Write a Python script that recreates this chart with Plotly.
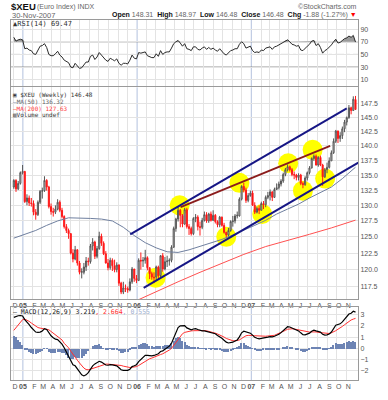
import numpy as np
import pandas as pd
import plotly.graph_objects as go

# ---------------- data (weekly $XEU) ----------------
week_dates = pd.date_range("2004-12-03", periods=157, freq="7D")

opens = [133.0, 134.1, 132.7, 133.6, 135.4, 135.6, 130.6, 131.2, 130.4, 130.3,
         128.9, 128.5, 130.5, 132.3, 132.4, 134.1, 133.0, 129.8, 129.0, 128.9,
         129.4, 130.5, 129.2, 128.2, 126.6, 126.0, 125.5, 122.5, 121.6, 123.0,
         121.0, 119.6, 119.6, 120.4, 121.3, 121.2, 123.6, 124.2, 122.0, 123.2,
         125.1, 124.0, 122.4, 121.0, 120.3, 121.4, 120.6, 120.0, 120.7, 118.0,
         116.7, 117.3, 117.2, 117.0, 118.2, 120.1, 118.7, 118.4, 121.4, 121.3,
         121.4, 121.8, 120.3, 119.4, 118.9, 118.9, 120.4, 119.1, 122.1, 120.1,
         121.2, 121.3, 121.4, 123.4, 126.3, 127.8, 129.2, 128.4, 127.0, 129.3,
         126.6, 126.3, 125.5, 127.9, 128.1, 126.6, 126.5, 127.6, 128.5, 127.5,
         128.6, 127.6, 128.4, 127.4, 126.9, 128.1, 126.8, 125.7, 125.3, 126.0,
         127.4, 127.5, 128.3, 128.3, 131.0, 133.1, 132.5, 130.8, 131.6, 132.0,
         130.0, 128.9, 129.5, 129.2, 130.3, 130.1, 131.3, 131.6, 132.2, 131.3,
         132.6, 132.9, 133.5, 134.0, 135.1, 135.9, 136.4, 135.9, 135.1, 135.0,
         134.6, 135.0, 133.6, 133.4, 134.5, 135.4, 136.2, 137.8, 138.2, 136.7,
         138.0, 136.7, 134.7, 135.9, 136.3, 137.4, 138.8, 140.8, 142.6, 141.3,
         141.8, 143.0, 144.2, 145.0, 146.8, 146.3, 148.31]
highs = [134.3, 134.3, 134.0, 135.6, 136.7, 135.7, 131.8, 131.6, 131.2, 130.8,
         129.4, 130.8, 132.5, 132.9, 134.8, 134.3, 133.2, 130.3, 129.6, 130.0,
         131.0, 130.8, 129.6, 128.4, 127.0, 126.3, 125.6, 123.1, 123.6, 123.1,
         121.3, 120.2, 121.0, 121.9, 121.8, 123.9, 124.8, 124.4, 123.6, 125.8,
         125.5, 124.3, 122.8, 121.6, 121.8, 121.7, 121.5, 121.1, 120.8, 118.2,
         118.2, 117.8, 117.5, 118.7, 120.4, 120.1, 119.2, 121.7, 122.6, 121.9,
         123.0, 122.0, 120.3, 119.7, 119.6, 120.6, 120.6, 122.2, 122.5, 121.9,
         122.1, 121.7, 123.7, 126.6, 128.0, 129.8, 129.4, 128.6, 129.6, 129.6,
         127.0, 126.6, 128.1, 128.6, 128.4, 127.4, 128.0, 129.0, 128.9, 128.8,
         129.0, 129.2, 128.6, 127.6, 128.3, 128.2, 127.2, 125.8, 126.4, 127.6,
         128.3, 128.6, 129.0, 131.3, 133.3, 133.7, 132.9, 132.0, 132.4, 132.4,
         130.5, 129.8, 130.0, 130.6, 130.7, 131.6, 132.2, 132.6, 132.3, 132.9,
         133.6, 133.9, 134.3, 135.4, 136.2, 136.8, 136.6, 136.2, 135.6, 135.2,
         135.3, 135.2, 133.9, 134.8, 135.6, 136.5, 138.0, 138.5, 138.5, 138.2,
         138.3, 136.9, 136.2, 137.1, 138.0, 139.2, 141.3, 142.8, 142.7, 142.4,
         143.4, 144.6, 145.2, 147.3, 147.0, 148.9, 148.97]
lows = [132.7, 132.2, 132.5, 133.4, 135.1, 130.4, 130.0, 129.9, 129.8, 128.4,
        127.7, 128.3, 130.2, 131.1, 132.2, 132.4, 129.5, 128.5, 128.2, 128.6,
        129.2, 128.9, 127.9, 126.3, 125.6, 124.7, 122.3, 121.1, 121.4, 120.6,
        119.3, 118.7, 119.3, 119.8, 120.6, 120.9, 122.9, 121.6, 121.7, 123.0,
        123.6, 122.2, 120.9, 119.9, 120.0, 119.8, 119.6, 119.6, 117.6, 116.4,
        116.4, 116.7, 116.6, 116.8, 117.9, 118.2, 118.0, 118.3, 120.0, 120.4,
        120.9, 119.9, 118.6, 118.5, 118.0, 118.4, 118.6, 118.9, 119.7, 119.9,
        120.4, 120.6, 121.1, 123.3, 125.8, 127.4, 126.5, 126.5, 126.9, 126.3,
        125.3, 125.2, 125.3, 127.3, 126.0, 125.2, 126.2, 127.4, 127.2, 127.2,
        127.4, 127.5, 127.1, 126.5, 126.5, 126.6, 125.5, 124.9, 125.0, 125.8,
        126.6, 127.1, 127.9, 128.2, 130.8, 132.1, 130.4, 130.5, 131.4, 129.9,
        128.6, 128.7, 128.6, 129.2, 129.4, 129.7, 131.0, 130.8, 130.7, 131.2,
        132.5, 132.6, 133.1, 133.7, 134.8, 135.6, 135.6, 134.8, 134.3, 134.1,
        134.1, 133.3, 132.8, 133.2, 134.1, 135.1, 136.1, 137.4, 136.6, 136.4,
        136.5, 133.2, 134.5, 135.3, 136.1, 137.4, 138.6, 140.5, 140.5, 140.7,
        141.2, 142.4, 143.6, 144.8, 145.6, 146.2, 146.48]
closes = [134.1, 132.7, 133.6, 135.4, 135.6, 130.6, 131.2, 130.4, 130.3, 128.9,
          128.5, 130.5, 132.3, 132.4, 134.1, 133.0, 129.8, 129.0, 128.9, 129.4,
          130.5, 129.2, 128.2, 126.6, 126.0, 125.5, 122.5, 121.6, 123.0, 121.0,
          119.6, 119.7, 120.4, 121.3, 121.2, 123.6, 124.2, 122.0, 123.2, 125.1,
          124.0, 122.4, 121.0, 120.3, 121.4, 120.6, 120.0, 120.7, 118.0, 116.7,
          117.3, 117.2, 117.0, 118.2, 120.1, 118.7, 118.4, 121.4, 121.3, 121.4,
          121.8, 120.3, 119.4, 118.9, 118.8, 120.4, 119.1, 122.1, 120.1, 121.2,
          121.3, 121.4, 123.4, 126.3, 127.8, 129.2, 128.4, 127.0, 129.3, 126.6,
          126.3, 125.5, 127.9, 128.1, 126.6, 126.5, 127.6, 128.5, 127.5, 128.6,
          127.6, 128.4, 127.4, 126.9, 128.1, 126.8, 125.7, 125.3, 126.0, 127.4,
          127.5, 128.3, 128.4, 131.0, 133.1, 132.5, 130.8, 131.6, 132.0, 130.0,
          128.9, 129.5, 129.2, 130.3, 130.1, 131.3, 131.6, 132.2, 131.3, 132.6,
          132.9, 133.5, 134.0, 135.1, 135.9, 136.4, 135.9, 135.1, 135.0, 134.6,
          135.0, 133.6, 133.4, 134.5, 135.4, 136.2, 137.8, 138.2, 136.7, 138.0,
          136.7, 134.7, 135.9, 136.3, 137.4, 138.8, 140.8, 142.6, 141.3, 141.8,
          143.0, 144.2, 145.0, 146.8, 146.3, 148.36, 146.48]

rsi14 = [77, 71, 73, 74, 73, 59, 60, 57, 56, 51,
         50, 57, 63, 64, 67, 61, 50, 48, 48, 51,
         55, 49, 46, 41, 39, 37, 30, 29, 36, 31,
         28, 29, 33, 38, 38, 47, 49, 42, 46, 53,
         49, 44, 41, 39, 44, 42, 40, 43, 36, 33,
         36, 36, 35, 41, 49, 44, 43, 53, 52, 53,
         54, 48, 46, 45, 45, 51, 47, 56, 50, 53,
         54, 54, 60, 67, 70, 72, 68, 63, 67, 59,
         58, 56, 62, 62, 58, 57, 60, 62, 58, 61,
         58, 60, 57, 55, 59, 54, 51, 49, 52, 56,
         57, 59, 59, 66, 70, 67, 60, 62, 63, 56,
         53, 54, 53, 57, 56, 60, 61, 62, 58, 62,
         63, 65, 67, 70, 72, 73, 70, 66, 65, 63,
         64, 57, 56, 60, 63, 66, 71, 72, 64, 67,
         61, 52, 56, 58, 61, 65, 70, 74, 68, 69,
         72, 75, 76, 79, 77, 80, 69.47]

macd_line = [2.75, 2.85, 2.90, 2.92, 2.88, 2.55, 2.35, 2.10, 1.85, 1.62,
             1.45, 1.42, 1.45, 1.55, 1.75, 1.68, 1.35, 1.12, 0.95, 0.82,
             0.78, 0.62, 0.38, 0.05, -0.35, -0.75, -1.15, -1.45, -1.55, -1.85,
             -2.15, -2.35, -2.45, -2.35, -2.15, -1.85, -1.55, -1.38, -1.30, -1.15,
             -1.22, -1.38, -1.48, -1.50, -1.45, -1.47, -1.52, -1.55, -1.72, -1.90,
             -1.95, -1.98, -1.95, -1.85, -1.62, -1.55, -1.45, -1.18, -0.98, -0.80,
             -0.62, -0.62, -0.65, -0.66, -0.63, -0.52, -0.48, -0.28, -0.22, -0.08,
             0.05, 0.20, 0.45, 0.95, 1.45, 1.85, 2.00, 1.98, 2.02, 1.82,
             1.72, 1.65, 1.72, 1.75, 1.68, 1.58, 1.55, 1.55, 1.50, 1.50,
             1.42, 1.40, 1.30, 1.15, 1.05, 0.90, 0.72, 0.55, 0.48, 0.50,
             0.55, 0.65, 0.75, 1.02, 1.38, 1.52, 1.45, 1.40, 1.35, 1.18,
             0.98, 0.90, 0.85, 0.88, 0.90, 0.95, 1.00, 1.05, 1.02, 1.08,
             1.15, 1.25, 1.40, 1.60, 1.78, 1.92, 1.90, 1.82, 1.72, 1.62,
             1.55, 1.38, 1.22, 1.20, 1.25, 1.35, 1.52, 1.62, 1.55, 1.52,
             1.45, 1.25, 1.18, 1.20, 1.28, 1.45, 1.75, 2.05, 2.12, 2.18,
             2.35, 2.58, 2.80, 3.05, 3.12, 3.30, 3.219]
macd_signal = [1.60, 1.85, 2.10, 2.35, 2.55, 2.60, 2.52, 2.40, 2.25, 2.10,
               1.95, 1.85, 1.80, 1.76, 1.74, 1.72, 1.65, 1.50, 1.35, 1.20,
               1.05, 0.90, 0.75, 0.45, 0.25, 0.05, -0.25, -0.55, -0.80, -1.05,
               -1.30, -1.55, -1.75, -1.88, -1.90, -1.85, -1.78, -1.72, -1.65, -1.55,
               -1.48, -1.42, -1.40, -1.40, -1.41, -1.42, -1.43, -1.44, -1.46, -1.52,
               -1.58, -1.64, -1.68, -1.70, -1.68, -1.65, -1.62, -1.52, -1.40, -1.25,
               -1.10, -1.00, -0.92, -0.86, -0.80, -0.74, -0.68, -0.55, -0.48, -0.38,
               -0.28, -0.15, 0.00, 0.25, 0.50, 0.80, 1.10, 1.30, 1.42, 1.48,
               1.52, 1.55, 1.57, 1.58, 1.59, 1.59, 1.59, 1.58, 1.56, 1.52,
               1.48, 1.42, 1.35, 1.28, 1.20, 1.10, 1.00, 0.88, 0.80, 0.72,
               0.68, 0.66, 0.68, 0.75, 0.88, 1.00, 1.12, 1.15, 1.17, 1.15,
               1.12, 1.10, 1.08, 1.06, 1.05, 1.08, 1.10, 1.12, 1.14, 1.16,
               1.25, 1.32, 1.40, 1.50, 1.60, 1.70, 1.73, 1.74, 1.72, 1.68,
               1.62, 1.58, 1.52, 1.47, 1.45, 1.45, 1.46, 1.48, 1.46, 1.42,
               1.40, 1.36, 1.33, 1.32, 1.32, 1.38, 1.45, 1.57, 1.70, 1.80,
               1.95, 2.10, 2.25, 2.40, 2.52, 2.60, 2.664]

ma50_weeks = [0, 5, 10, 15, 20, 25, 30, 35, 40, 45, 50, 55, 60, 65, 70, 75,
              80, 85, 90, 95, 100, 105, 110, 115, 120, 125, 130, 135, 140, 145, 150, 156]
ma50_values = [124.8, 125.4, 126.0, 126.8, 127.5, 128.0, 128.0, 127.9, 127.8, 127.5,
               126.5, 125.2, 124.1, 123.3, 122.7, 122.6, 123.0, 123.5, 124.0, 124.6,
               125.3, 126.0, 126.8, 127.6, 128.6, 129.4, 130.2, 131.2, 132.1, 133.0,
               134.4, 136.32]
ma200_weeks = [57, 65, 75, 85, 95, 105, 115, 125, 135, 145, 156]
ma200_values = [115.6, 116.8, 118.2, 119.6, 121.0, 122.3, 123.5, 124.5, 125.4, 126.4, 127.63]

# annotations drawn on the chart (trend channel + highlighted touches)
upper_line_dates = ["2005-12-10", "2007-11-02"]
upper_line_prices = [125.4, 146.7]
lower_line_dates = ["2006-01-22", "2007-12-09"]
lower_line_prices = [117.3, 137.1]
mid_line_dates = ["2006-05-20", "2007-09-10"]
mid_line_prices = [129.7, 140.0]
circle_dates = ["2006-03-01", "2006-05-17", "2006-10-13", "2006-11-24", "2007-02-05",
                "2007-04-29", "2007-06-15", "2007-07-16", "2007-08-25"]
circle_prices = [118.8, 130.0, 125.0, 133.7, 128.6, 137.0, 132.4, 139.3, 134.4]

price_ticks = [117.5, 120.0, 122.5, 125.0, 127.5, 130.0, 132.5, 135.0, 137.5, 140.0, 142.5, 145.0, 147.5]
rsi_ticks = [10, 30, 50, 70, 90]
macd_ticks = [-2, -1, 0, 1, 2, 3]
month_letters = "JFMAMJJASOND"

# ---------------- layout helpers ----------------
W, H = 388, 400
ML, MR, MT, MB = 10, 30, 20, 11
PW, PH = W - ML - MR, H - MT - MB


def fy(p):
    return (H - MB - p) / PH


def fx(p):
    return (p - ML) / PW


months = pd.date_range("2004-12-01", "2007-11-01", freq="MS")
tick_pos = [d if d.month == 1 else d + pd.Timedelta(days=6) for d in months]
tick_txt = [f"<b>{d:%y}</b>" if d.month == 1 else month_letters[d.month - 1] for d in months]
grid_months = [d for d in months if d.month != 1]
year_starts = [d for d in months if d.month == 1]

xrange_ = ["2004-11-24", "2007-12-08"]
TICKFONT = dict(family="Liberation Sans, Arial", size=7, color="#555")

fig = go.Figure()

# --- RSI panel ---
rsi_arr = np.array(rsi14, dtype=float)
fig.add_trace(go.Scatter(x=week_dates, y=[70] * len(week_dates), mode="lines",
                         line=dict(width=0), xaxis="x", yaxis="y", hoverinfo="skip"))
fig.add_trace(go.Scatter(x=week_dates, y=np.maximum(rsi_arr, 70), mode="lines",
                         line=dict(width=0), fill="tonexty", fillcolor="#9a9a9a",
                         xaxis="x", yaxis="y", hoverinfo="skip"))
fig.add_trace(go.Scatter(x=week_dates, y=rsi_arr, mode="lines",
                         line=dict(color="#2a2a2a", width=1), xaxis="x", yaxis="y"))

# --- price panel: highlight circles on the base axis, price marks on an overlay ---
fig.add_trace(go.Scatter(x=circle_dates, y=circle_prices, mode="markers",
                         marker=dict(size=20, color="#ffff00", line=dict(width=0)),
                         xaxis="x2", yaxis="y2"))
fig.add_trace(go.Candlestick(
    x=week_dates, open=opens, high=highs, low=lows, close=closes,
    xaxis="x2", yaxis="y4",
    increasing=dict(line=dict(color="#555555", width=1), fillcolor="#e0e0e0"),
    decreasing=dict(line=dict(color="#ff1a1a", width=1), fillcolor="#ff0000"),
    whiskerwidth=0))
fig.add_trace(go.Scatter(x=week_dates[ma50_weeks], y=ma50_values, mode="lines",
                         line=dict(color="#6f7f9f", width=1), xaxis="x2", yaxis="y4"))
fig.add_trace(go.Scatter(x=week_dates[ma200_weeks], y=ma200_values, mode="lines",
                         line=dict(color="#ff5050", width=1), xaxis="x2", yaxis="y4"))
fig.add_trace(go.Scatter(x=upper_line_dates, y=upper_line_prices, mode="lines",
                         line=dict(color="#161685", width=2), xaxis="x2", yaxis="y4"))
fig.add_trace(go.Scatter(x=lower_line_dates, y=lower_line_prices, mode="lines",
                         line=dict(color="#161685", width=2), xaxis="x2", yaxis="y4"))
fig.add_trace(go.Scatter(x=mid_line_dates, y=mid_line_prices, mode="lines",
                         line=dict(color="#8b1c1c", width=1.8), xaxis="x2", yaxis="y4"))

# --- MACD panel ---
hist = np.array(macd_line) - np.array(macd_signal)
fig.add_trace(go.Bar(x=week_dates, y=hist, width=4 * 86400000,
                     marker=dict(color="#6d84b4", line=dict(width=0)),
                     xaxis="x3", yaxis="y3"))
fig.add_trace(go.Scatter(x=week_dates, y=macd_signal, mode="lines",
                         line=dict(color="#ff3030", width=1), xaxis="x3", yaxis="y3"))
fig.add_trace(go.Scatter(x=week_dates, y=macd_line, mode="lines",
                         line=dict(color="#000000", width=1.2), xaxis="x3", yaxis="y3"))


# ---------------- axes ----------------
def xaxis_cfg(anchor, labels):
    return dict(type="date", range=xrange_, anchor=anchor, matches=None if anchor == "y" else "x",
                showgrid=False, zeroline=False, showline=True, mirror=True,
                linecolor="#9a9a9a", linewidth=1, ticks="", tickangle=0,
                tickmode="array", tickvals=tick_pos, ticktext=tick_txt,
                showticklabels=labels, tickfont=TICKFONT,
                minor=dict(tickmode="array", tickvals=grid_months, showgrid=True,
                           gridcolor="#e3e3e3", gridwidth=1, ticks=""),
                rangeslider=dict(visible=False), fixedrange=True)


def yaxis_cfg(domain, anchor, rng, ticks, fmt=None, typ="linear"):
    d = dict(domain=domain, anchor=anchor, range=rng, type=typ, side="right",
             tickmode="array", tickvals=ticks, showgrid=True, gridcolor="#e3e3e3",
             gridwidth=1, zeroline=False, showline=True, mirror=True,
             linecolor="#9a9a9a", linewidth=1, ticks="", tickfont=TICKFONT, fixedrange=True)
    if fmt:
        d["tickformat"] = fmt
    return d


rsi_dom = [fy(88), fy(20)]
main_dom = [fy(306), fy(89)]
macd_dom = [fy(389), fy(314)]

p_top, p_bot = 150.58, 115.69
main_range = [np.log10(p_bot), np.log10(p_top)]

fig.update_layout(
    width=W, height=H, margin=dict(l=ML, r=MR, t=MT, b=MB),
    paper_bgcolor="white", plot_bgcolor="white", showlegend=False,
    xaxis=xaxis_cfg("y", False),
    xaxis2=xaxis_cfg("y2", True),
    xaxis3=xaxis_cfg("y3", True),
    yaxis=yaxis_cfg(rsi_dom, "x", [-0.3, 104.3], rsi_ticks),
    yaxis2=yaxis_cfg(main_dom, "x2", main_range, price_ticks, fmt=".1f", typ="log"),
    yaxis3=yaxis_cfg(macd_dom, "x3", [-2.81, 3.69], macd_ticks),
    yaxis4=dict(overlaying="y2", anchor="x2", type="log", range=main_range,
                visible=False, fixedrange=True),
    bargap=0,
)

shapes = []
# year separators
for ydom in ["y domain", "y2 domain", "y3 domain"]:
    xr = ydom.split()[0].replace("y", "x")
    for d in year_starts:
        shapes.append(dict(type="line", xref=xr, yref=ydom, x0=d, x1=d, y0=0, y1=1,
                           line=dict(color="#b3c1de", width=1), layer="below"))
# RSI reference lines
for lvl, dash in [(70, "solid"), (30, "solid"), (50, "dashdot")]:
    shapes.append(dict(type="line", xref="x domain", yref="y", x0=0, x1=1, y0=lvl, y1=lvl,
                       line=dict(color="#7a7a7a", width=1, dash=dash), layer="below"))
fig.update_layout(shapes=shapes)

SANS = "Liberation Sans, Arial"
MONO = "DejaVu Sans Mono, monospace"


def ann(x, y, text, size=7, color="#333", xanchor="left", family=SANS):
    return dict(xref="paper", yref="paper", x=fx(x), y=fy(y), text=text, showarrow=False,
                xanchor=xanchor, yanchor="middle", borderpad=0,
                font=dict(size=size, color=color, family=family))


g = "#666"
annotations = [
    ann(9, 6, "<b>$XEU</b>", size=9.5, color="#111"),
    ann(35, 6.5, "(Euro Index) INDX", size=7, color=g),
    ann(358, 6.5, "©StockCharts.com", size=7, color=g, xanchor="right"),
    ann(10, 15, "30-Nov-2007", size=7.5, color=g),
    ann(358, 15,
        f"<b>Open</b> <span style='color:{g}'>148.31</span>  <b>High</b> "
        f"<span style='color:{g}'>148.97</span>  <b>Low</b> <span style='color:{g}'>146.48</span>"
        f"  <b>Close</b> <span style='color:{g}'>146.48</span>  <b>Chg</b> "
        f"<span style='color:{g}'>-1.88 (-1.27%)</span> <span style='color:red'>▼</span>",
        size=7, color="#111", xanchor="right"),
    ann(11, 23.8, "▲RSI(14) 69.47", size=7, color="#333", family=MONO),
    ann(11, 97.2, "▣ $XEU (Weekly) 146.48", size=6, color="#333", family=MONO),
    ann(11, 103.9, "<span style='color:#6f7f9f'>—</span>MA(50) 136.32", size=6, color="#666", family=MONO),
    ann(11, 110.6, "—MA(200) 127.63", size=6, color="#ff4040", family=MONO),
    ann(11, 117.3, "▥Volume undef", size=6, color="#333", family=MONO),
    ann(11, 319.5, "— MACD(12,26,9) 3.219<span style='color:#ff3030'>, 2.664</span>"
                   "<span style='color:#9fb0d0'>, 0.555</span>", size=6.5, color="#222", family=MONO),
]
fig.update_layout(annotations=annotations)

fig.write_html("out.html", config={"displayModeBar": False},
               post_script="document.body.style.margin='0';")
